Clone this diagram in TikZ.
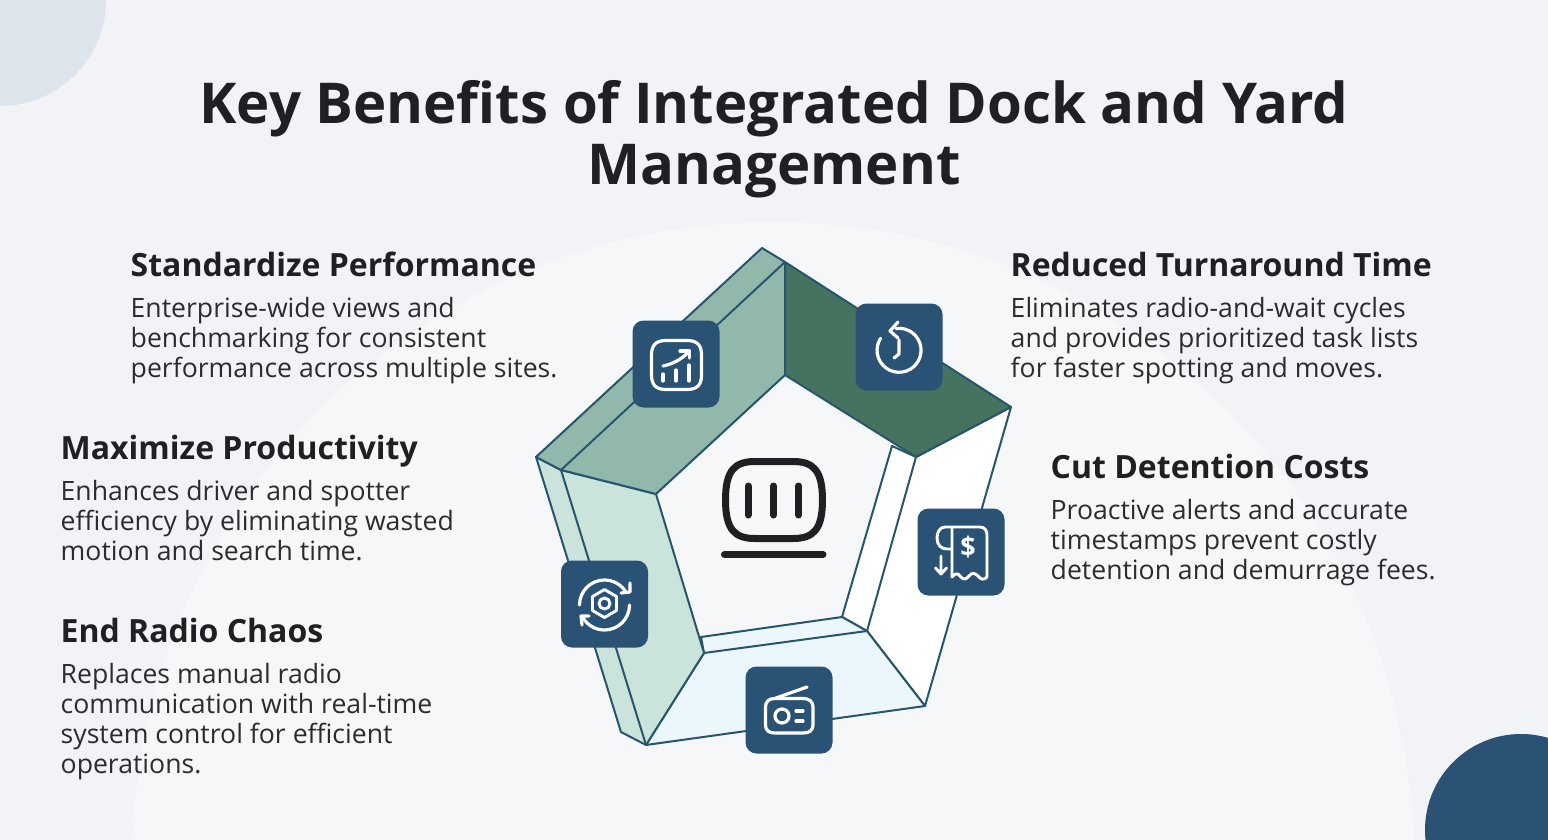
\documentclass[tikz,border=0pt]{standalone}
\usepackage{fontspec}
\setmainfont{Open Sans}
\definecolor{bgc}{HTML}{F1F3F7}
\definecolor{bigc}{HTML}{F6F7F9}
\definecolor{tlc}{HTML}{DEE4EB}
\definecolor{navy}{HTML}{2A5274}
\definecolor{edgec}{HTML}{27566C}
\definecolor{sage}{HTML}{92B7AB}
\definecolor{deep}{HTML}{467260}
\definecolor{mint}{HTML}{CAE4DC}
\definecolor{pale}{HTML}{EBF6FD}
\definecolor{ink}{HTML}{1E2023}
\definecolor{bodyink}{HTML}{2A2C2F}
\tikzset{
  face/.style={draw=edgec,line width=2pt,line join=round},
  iconbox/.style={fill=navy,rounded corners=11pt,minimum width=87pt,minimum height=87pt,inner sep=0pt,draw=none},
  ico/.style={draw=white,line width=3.2pt,line cap=round,line join=round},
  thinico/.style={ico,line width=2.9pt},
  mainico/.style={draw=ink,line width=7pt,line cap=round,line join=round},
  heading/.style={anchor=base west,inner sep=0pt,font=\fontsize{32}{36}\selectfont\bfseries,text=ink},
  bodytext/.style={anchor=north west,inner sep=0pt,align=left,font=\fontsize{26.6}{30}\selectfont,text=bodyink},
  titletext/.style={anchor=center,inner sep=0pt,align=center,font=\fontsize{56.3}{61}\selectfont\bfseries,text=ink}
}
\begin{document}
\begin{tikzpicture}[x=1pt,y=-1pt]
\useasboundingbox (0,0) rectangle (1548,840);
\begin{scope}
\clip (0,0) rectangle (1548,840);
\fill[bgc] (0,0) rectangle (1548,840);
\fill[bigc] (773,863) circle[radius=641];
\fill[tlc] (0,0) circle[radius=106];
\fill[navy] (1521,830) circle[radius=96];
\end{scope}
\node[titletext] (title) at (774,139) {Key Benefits of Integrated Dock and Yard\\Management};
% pentagon faces
\coordinate (ot) at (762,248);
\coordinate (it) at (785,262);
\coordinate (ol) at (536,457);
\coordinate (il) at (561,470);
\coordinate (cl) at (656,494);
\coordinate (ct) at (785,375);
\coordinate (or) at (1011,407);
\coordinate (cr) at (916,457);
\coordinate (sr) at (892,446);
\coordinate (cb) at (867,631);
\coordinate (sb) at (842,617);
\coordinate (obr) at (925,706);
\coordinate (cbl) at (704,653);
\coordinate (sbl) at (701,637);
\coordinate (obl) at (646,745);
\coordinate (sl) at (621,732);
\filldraw[face,fill=white] (sr) -- (cr) -- (or) -- (obr) -- (cb) -- (sb) -- cycle;
\draw[face] (cr) -- (cb);
\filldraw[face,fill=pale] (sbl) -- (sb) -- (cb) -- (obr) -- (obl) -- (cbl) -- cycle;
\draw[face] (cbl) -- (cb);
\filldraw[face,fill=mint] (ol) -- (il) -- (cl) -- (cbl) -- (obl) -- (sl) -- cycle;
\draw[face] (il) -- (obl);
\filldraw[face,fill=sage] (ol) -- (ot) -- (it) -- (ct) -- (cl) -- (il) -- cycle;
\draw[face] (il) -- (it);
\filldraw[face,fill=deep] (it) -- (or) -- (cr) -- (ct) -- cycle;
% centre icon
\draw[mainico] (725.5,500) .. controls (725.5,470) and (735,461.5) .. (755,461.5) -- (793,461.5) .. controls (813,461.5) and (822.5,470) .. (822.5,500) .. controls (822.5,530) and (813,538.5) .. (793,538.5) -- (755,538.5) .. controls (735,538.5) and (725.5,530) .. (725.5,500) -- cycle;
\draw[mainico] (748,486) -- (748,515) (773.5,486) -- (773.5,515) (798.5,486) -- (798.5,515);
\draw[mainico] (724.5,554.5) -- (823,554.5);
% icon boxes
\node[iconbox] (boxchart) at (676,364) {};
\node[iconbox] (boxclock) at (899,347) {};
\node[iconbox] (boxbill) at (961,552) {};
\node[iconbox] (boxradio) at (789,710) {};
\node[iconbox] (boxgear) at (604.5,604) {};
% chart icon
\draw[ico] (651.5,355) .. controls (651.5,345) and (656,340.5) .. (666,340.5) -- (687,340.5) .. controls (697,340.5) and (701.5,345) .. (701.5,355) -- (701.5,375) .. controls (701.5,385) and (697,389.5) .. (687,389.5) -- (666,389.5) .. controls (656,389.5) and (651.5,385) .. (651.5,375) -- cycle;
\draw[ico] (663,374) -- (663,381) (676,370) -- (676,381) (689,365) -- (689,381);
\draw[ico] (663,366) .. controls (673,364) and (682,359) .. (689,351.5);
\draw[ico] (680,351) -- (689.5,351) -- (689.5,358);
% clock icon
\draw[ico] (896,328.5) arc[start angle=-98,end angle=213,radius=22];
\draw[ico] (898,322) -- (890,331) -- (898,338);
\draw[ico] (899,340) -- (899,354) -- (894,358);
% bill icon
\draw[thinico] (952,577) -- (952,527) -- (980,527) .. controls (985,527) and (987,531) .. (987,535) -- (987,577);
\draw[thinico] (952,577) .. controls (955,573) and (958,573) .. (960,576) .. controls (963,580) and (966,580) .. (969,576) .. controls (972,572) and (975,573) .. (978,576) .. controls (981,580) and (984,580) .. (987,577);
\draw[thinico] (952,527) -- (945,527) .. controls (940,527) and (937,532) .. (937,538) .. controls (937,545) and (941,549) .. (947,549) -- (952,549);
\draw[thinico] (941,556) -- (941,574) (935.5,568) -- (941,574) -- (946.5,568);
\node[inner sep=0pt,text=white,font=\fontsize{27}{27}\selectfont\bfseries] (dollar) at (968,547.5) {\$};
% radio icon
\draw[ico] (765.5,708) .. controls (765.5,701) and (769,698.5) .. (775,698.5) -- (803,698.5) .. controls (809,698.5) and (813,701) .. (813,708) -- (813,724) .. controls (813,731) and (809,733) .. (803,733) -- (775,733) .. controls (769,733) and (765.5,731) .. (765.5,724) -- cycle;
\draw[ico] (776,698) -- (807,687);
\draw[ico] (782,716) circle[radius=7];
\draw[ico] (796,711) -- (803,711) (796,721) -- (803,721);
% gear icon
\draw[ico] (579.5,605) arc[start angle=180,end angle=328,radius=25];
\draw[ico] (621,593) -- (630,592) -- (630,583);
\draw[ico] (629.5,605) arc[start angle=0,end angle=148,radius=25];
\draw[ico] (589,616) -- (581,616) -- (582,625);
\draw[thinico] (604.5,589.5) -- (616.5,596.5) -- (616.5,610.5) -- (604.5,617.5) -- (592.5,610.5) -- (592.5,596.5) -- cycle;
\draw[thinico] (604.5,603.5) circle[radius=5.5];
% text
\node[heading] (h1) at (130.5,276) {Standardize Performance};
\node[bodytext] (b1) at (130.5,297) {Enterprise-wide views and\\benchmarking for consistent\\performance across multiple sites.};
\node[heading] (h2) at (60.5,459) {Maximize Productivity};
\node[bodytext] (b2) at (60.5,480) {Enhances driver and spotter\\efficiency by eliminating wasted\\motion and search time.};
\node[heading] (h3) at (60.5,642) {End Radio Chaos};
\node[bodytext] (b3) at (60.5,663) {Replaces manual radio\\communication with real-time\\system control for efficient\\operations.};
\node[heading] (h4) at (1010.5,276) {Reduced Turnaround Time};
\node[bodytext] (b4) at (1010.5,297) {Eliminates radio-and-wait cycles\\and provides prioritized task lists\\for faster spotting and moves.};
\node[heading] (h5) at (1050.5,478) {Cut Detention Costs};
\node[bodytext] (b5) at (1050.5,499) {Proactive alerts and accurate\\timestamps prevent costly\\detention and demurrage fees.};
\end{tikzpicture}
\end{document}
